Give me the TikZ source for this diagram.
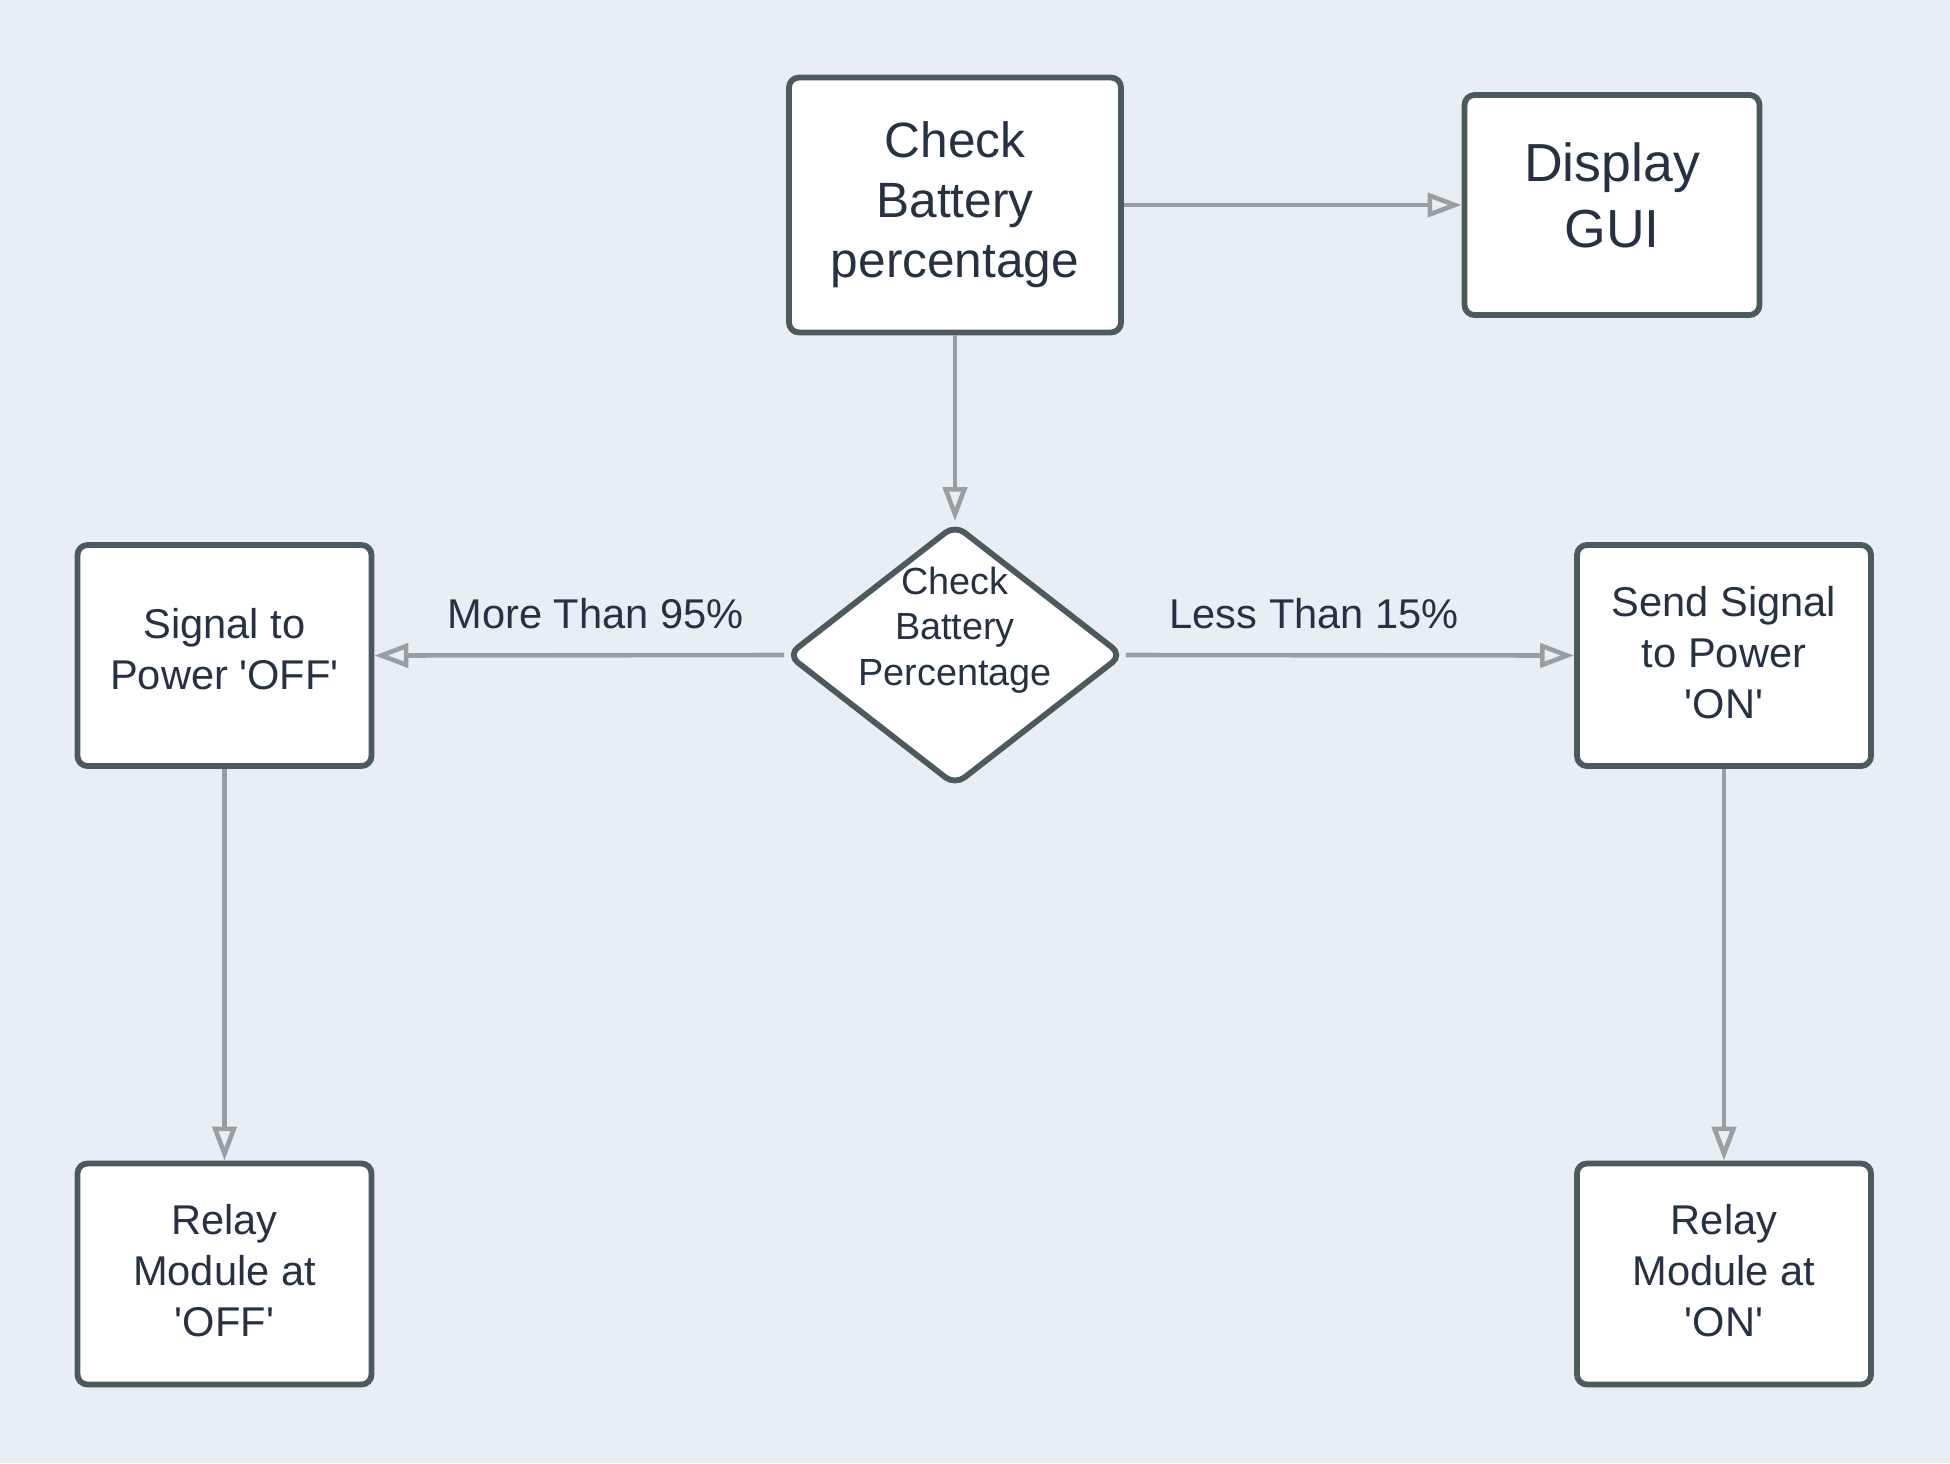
\documentclass[tikz,border=0pt]{standalone}
\usepackage{fontspec}
\setmainfont{Liberation Sans}
\usetikzlibrary{shapes.geometric, arrows.meta}

\definecolor{bgblue}{HTML}{E7EFF5}
\definecolor{boxline}{HTML}{4B5B5D}
\definecolor{inkblue}{HTML}{263244}
\definecolor{arrowgrey}{HTML}{9A9EA0}

\newcommand{\q}{\textquotesingle}
\newcommand{\liftup}[2]{\raisebox{#1}[\height][\depth]{\begin{tabular}{@{}c@{}}#2\end{tabular}}}

\tikzset{
    stepbox/.style={draw=boxline, fill=white, line width=2.9pt, rounded corners=5pt,
        minimum width=147pt, minimum height=110.5pt, inner sep=0pt, align=center,
        text=inkblue, font=\fontsize{20.8}{25.5}\selectfont},
    decide/.style={diamond, draw=boxline, fill=white, line width=2.9pt, rounded corners=6pt,
        minimum width=168pt, minimum height=131pt, inner sep=0pt},
    flow/.style={draw=arrowgrey, line width=2.3pt, -{Triangle[open, length=17pt, width=12pt]}},
    flowlabel/.style={text=inkblue, font=\fontsize{20.8}{25}\selectfont}
}

\begin{document}
\begin{tikzpicture}[x=0.5pt, y=-0.5pt]
    \fill[bgblue] (0,0) rectangle (1950,1463);
    % Top row.
        \node[stepbox, minimum width=166pt, minimum height=127.5pt,
            font=\fontsize{24.8}{30}\selectfont] (check) at (955,205) {Check\\Battery\\percentage};
        \node[stepbox, minimum width=147.5pt, minimum height=110pt,
            font=\fontsize{26.8}{33}\selectfont] (gui) at (1612,205) {\liftup{2pt}{Display\\GUI}};
    % The decision.
        \node[decide] (decide) at (955,655) {};
        \node[text=inkblue, align=center, font=\fontsize{18.9}{22.7}\selectfont] (decidetext) at (955,630) {Check\\Battery\\Percentage};
    % Side boxes.
        \node[stepbox] (sigoff) at (224.5,655.5) {\liftup{1.1pt}{Signal to\\Power \q OFF\q}};
        \node[stepbox] (sigon) at (1724,655.5) {\liftup{-0.7pt}{Send Signal\\to Power\\\q ON\q}};
        \node[stepbox] (relayoff) at (224.5,1274) {\liftup{-0.5pt}{Relay\\Module at\\\q OFF\q}};
        \node[stepbox] (relayon) at (1724,1274) {\liftup{-0.5pt}{Relay\\Module at\\\q ON\q}};
    % Arrows between the boxes.
        \draw[flow] (check.east) -- (gui.west);
        \draw[flow] (check.south) -- (decide.north);
        \draw[flow] (decide.west) -- node[flowlabel, pos=0.46, yshift=21pt] {More Than 95\%} (sigoff.east);
        \draw[flow] (decide.east) -- node[flowlabel, pos=0.42, yshift=21pt] {Less Than 15\%} (sigon.west);
        \draw[flow] (sigoff.south) -- (relayoff.north);
        \draw[flow] (sigon.south) -- (relayon.north);
\end{tikzpicture}
\end{document}
